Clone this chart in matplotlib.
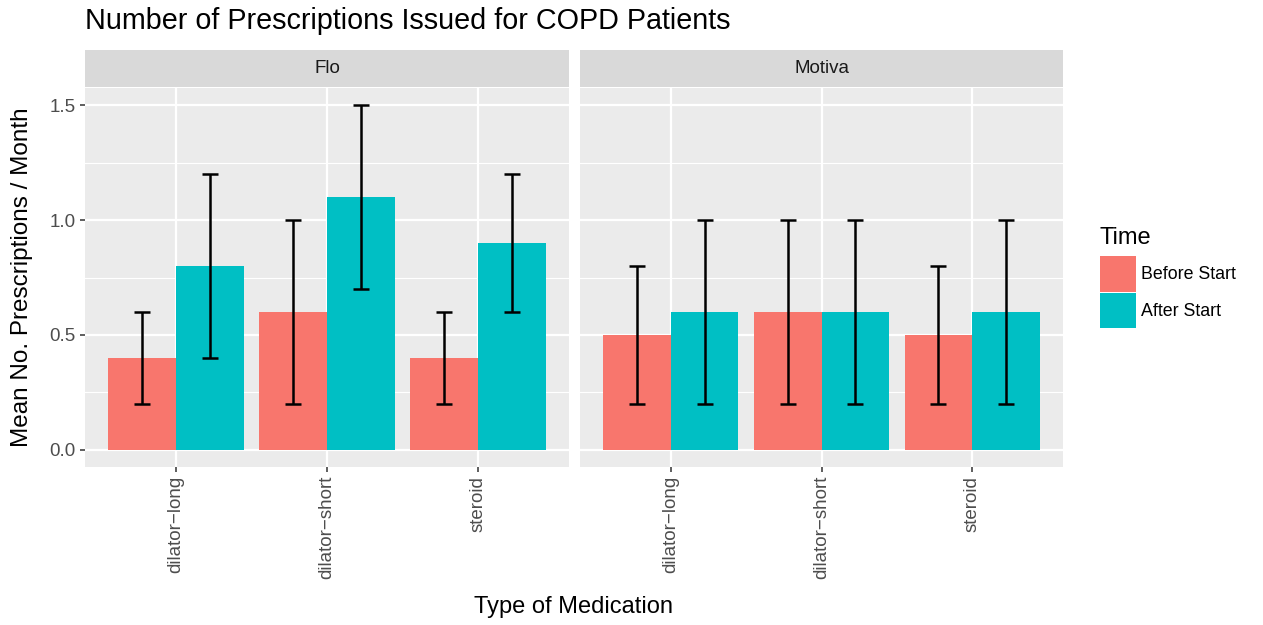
import matplotlib
matplotlib.use("Agg")
import matplotlib.pyplot as plt
import numpy as np

plt.rcParams['font.family'] = ['Liberation Sans', 'DejaVu Sans']

categories = ["dilator\u2212long", "dilator\u2212short", "steroid"]
panels = ["Flo", "Motiva"]
groups = ["Before Start", "After Start"]
colors = ["#F8766D", "#00BFC4"]

# mean, lower, upper per panel / group
flo_before = [0.4, 0.6, 0.4]
flo_before_lo = [0.2, 0.2, 0.2]
flo_before_hi = [0.6, 1.0, 0.6]
flo_after = [0.8, 1.1, 0.9]
flo_after_lo = [0.4, 0.7, 0.6]
flo_after_hi = [1.2, 1.5, 1.2]

motiva_before = [0.5, 0.6, 0.5]
motiva_before_lo = [0.2, 0.2, 0.2]
motiva_before_hi = [0.8, 1.0, 0.8]
motiva_after = [0.6, 0.6, 0.6]
motiva_after_lo = [0.2, 0.2, 0.2]
motiva_after_hi = [1.0, 1.0, 1.0]

data = {
    "Flo": [(flo_before, flo_before_lo, flo_before_hi),
            (flo_after, flo_after_lo, flo_after_hi)],
    "Motiva": [(motiva_before, motiva_before_lo, motiva_before_hi),
               (motiva_after, motiva_after_lo, motiva_after_hi)],
}

W, H = 1263, 625
fig = plt.figure(figsize=(W / 100, H / 100), dpi=100)

def frac(x0, y0, x1, y1):
    return [x0 / W, 1 - y1 / H, (x1 - x0) / W, (y1 - y0) / H]

panel_x = [(85, 569), (580, 1063)]
tick_grey = "#4D4D4D"
x = np.arange(1, len(categories) + 1)
bw = 0.45

for i, name in enumerate(panels):
    x0, x1 = panel_x[i]
    ax = fig.add_axes(frac(x0, 88, x1, 467))
    ax.set_facecolor("#EBEBEB")
    for s in ax.spines.values():
        s.set_visible(False)
    ax.set_xlim(0.4, 3.6)
    ax.set_ylim(-0.075, 1.575)
    ax.set_yticks([0, 0.5, 1.0, 1.5])
    ax.set_yticks([0.25, 0.75, 1.25], minor=True)
    ax.set_xticks(x)
    ax.grid(True, which="major", color="white", lw=1.6)
    ax.grid(True, which="minor", axis="y", color="white", lw=0.8)
    ax.set_axisbelow(True)
    ax.tick_params(which="minor", length=0)
    ax.tick_params(which="major", color="#333333", length=3.5, width=1.1,
                   labelcolor=tick_grey, labelsize=13.5, pad=3)
    ax.set_xticklabels(categories, rotation=90)
    if i == 0:
        ax.set_yticklabels(["0.0", "0.5", "1.0", "1.5"])
    else:
        ax.tick_params(axis="y", length=0, labelleft=False)

    for g in range(2):
        mean, lo, hi = data[name][g]
        xs = x + (g - 0.5) * bw
        ax.bar(xs, mean, width=bw, color=colors[g], zorder=2,
               label=groups[g])
        mean = np.array(mean)
        yerr = [mean - np.array(lo), np.array(hi) - mean]
        ax.errorbar(xs, mean, yerr=yerr, fmt="none", ecolor="black",
                    elinewidth=1.8, capsize=5.5, capthick=1.8, zorder=3)

    sax = fig.add_axes(frac(x0, 50, x1, 87))
    sax.set_facecolor("#D9D9D9")
    sax.set_xticks([])
    sax.set_yticks([])
    for s in sax.spines.values():
        s.set_visible(False)
    sax.text(0.5, 0.5, name, ha="center", va="center", fontsize=13.5,
             color="#1A1A1A", transform=sax.transAxes)

    if i == 1:
        handles, labels = ax.get_legend_handles_labels()

fig.text(85 / W, 1 - 21 / H, "Number of Prescriptions Issued for COPD Patients",
         fontsize=20.7, ha="left", va="center", color="black")
fig.text(574 / W, 1 - 607 / H, "Type of Medication", fontsize=17,
         ha="center", va="center")
fig.text(22 / W, 1 - 277 / H, "Mean No. Prescriptions / Month", fontsize=17.5,
         ha="center", va="center", rotation=90)

leg = fig.legend(handles, labels, title="Time", loc="upper left",
                 bbox_to_anchor=(1100 / W, 1 - 227 / H), frameon=False,
                 fontsize=12.8, title_fontsize=17, handlelength=2.0,
                 handleheight=2.7, handletextpad=0.3, labelspacing=0.08,
                 borderpad=0, borderaxespad=0)
leg._legend_box.align = "left"
leg._legend_box.sep = 5

fig.savefig("out.png", dpi=100)
